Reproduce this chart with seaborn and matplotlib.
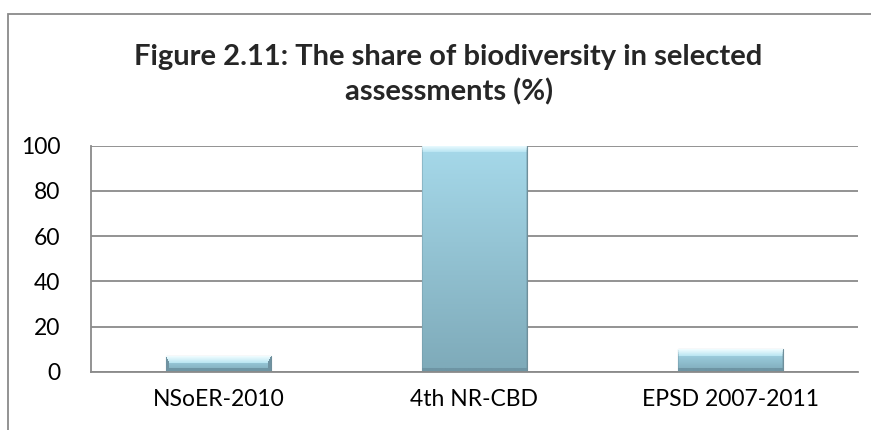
import numpy as np
import pandas as pd
import matplotlib
matplotlib.use("Agg")
import matplotlib.pyplot as plt
import seaborn as sns
from matplotlib.patches import Rectangle
from matplotlib.colors import to_rgb

# Werte aus der Abbildung
categories = ["NSoER-2010", "4th NR-CBD", "EPSD 2007-2011"]
share = [7, 100, 10]
y_ticks = [0, 20, 40, 60, 80, 100]
title = "Figure 2.11: The share of biodiversity in selected\nassessments (%)"

df = pd.DataFrame({"assessment": categories, "share": share})

sns.set_style("white")
plt.rcParams["font.family"] = ["Lato", "DejaVu Sans"]

fig = plt.figure(figsize=(8.71, 4.30), dpi=100)
ax = fig.add_axes([0.1045, 0.1349, 0.8805, 0.5267])

sns.barplot(data=df, x="assessment", y="share", color="#9ccde0",
            width=0.41, edgecolor="#6f8f9b", linewidth=0.8, ax=ax)

ax.set_ylim(0, 100)
ax.set_yticks(y_ticks)
ax.set_xlabel("")
ax.set_ylabel("")
ax.yaxis.grid(True, color="#8a8a8a", linewidth=1.3)
ax.set_axisbelow(True)
for s in ["top", "right"]:
    ax.spines[s].set_visible(False)
for s in ["left", "bottom"]:
    ax.spines[s].set_color("#8a8a8a")
    ax.spines[s].set_linewidth(1.3)
ax.tick_params(axis="both", length=0, labelsize=16.5, colors="#000000")
ax.tick_params(axis="y", pad=22)
ax.tick_params(axis="x", pad=12)

# Verlauf / Abschrägung auf den Balken
fig.canvas.draw()
xlim = ax.get_xlim()
c_top = np.array(to_rgb("#a6d9ea"))
c_bot = np.array(to_rgb("#7eaab9"))
c_hi1 = np.array(to_rgb("#eefcff"))
c_hi2 = np.array(to_rgb("#b4e3f1"))
c_lo = np.array(to_rgb("#6e95a4"))
c_side = np.array(to_rgb("#6f93a1"))
bev_top, bev_bot, bev_side = 7, 4, 3
for p in list(ax.patches):
    bb = p.get_window_extent()
    w = max(int(round(bb.width)), 2)
    h = max(int(round(bb.height)), 2)
    yy, xx = np.mgrid[0:h, 0:w]
    t = (yy / (h - 1))[..., None]
    img = c_top * (1 - t) + c_bot * t
    d_top = yy / bev_top
    d_bot = (h - 1 - yy) / bev_bot
    d_side = np.minimum(xx, w - 1 - xx) / bev_side
    dmin = np.minimum(np.minimum(d_top, d_bot), d_side)
    m = dmin < 1
    side = m & (d_side == dmin)
    top = m & (d_top == dmin)
    bot = m & (d_bot == dmin) & ~top
    img[side] = c_side
    s = (yy[top] / bev_top)[:, None]
    img[top] = c_hi1 * (1 - s) + c_hi2 * s
    img[bot] = c_lo
    x0, y0 = p.get_x(), p.get_y()
    ax.imshow(img, extent=[x0, x0 + p.get_width(), y0, y0 + p.get_height()],
              origin="upper", aspect="auto", interpolation="bilinear",
              zorder=p.get_zorder() + 0.1)
ax.set_xlim(xlim)
ax.set_ylim(0, 100)

fig.text(0.515, 0.826, title, ha="center", va="center", fontsize=21,
         fontweight="bold", linespacing=1.35, multialignment="center")

# Rahmen des Diagrammbereichs
fig.patches.append(Rectangle((8 / 871, -0.2), 1.5, 1.2 - 14 / 430,
                             transform=fig.transFigure, fill=False,
                             edgecolor="#8a8a8a", linewidth=1.3))

fig.savefig("out.png", dpi=100)
